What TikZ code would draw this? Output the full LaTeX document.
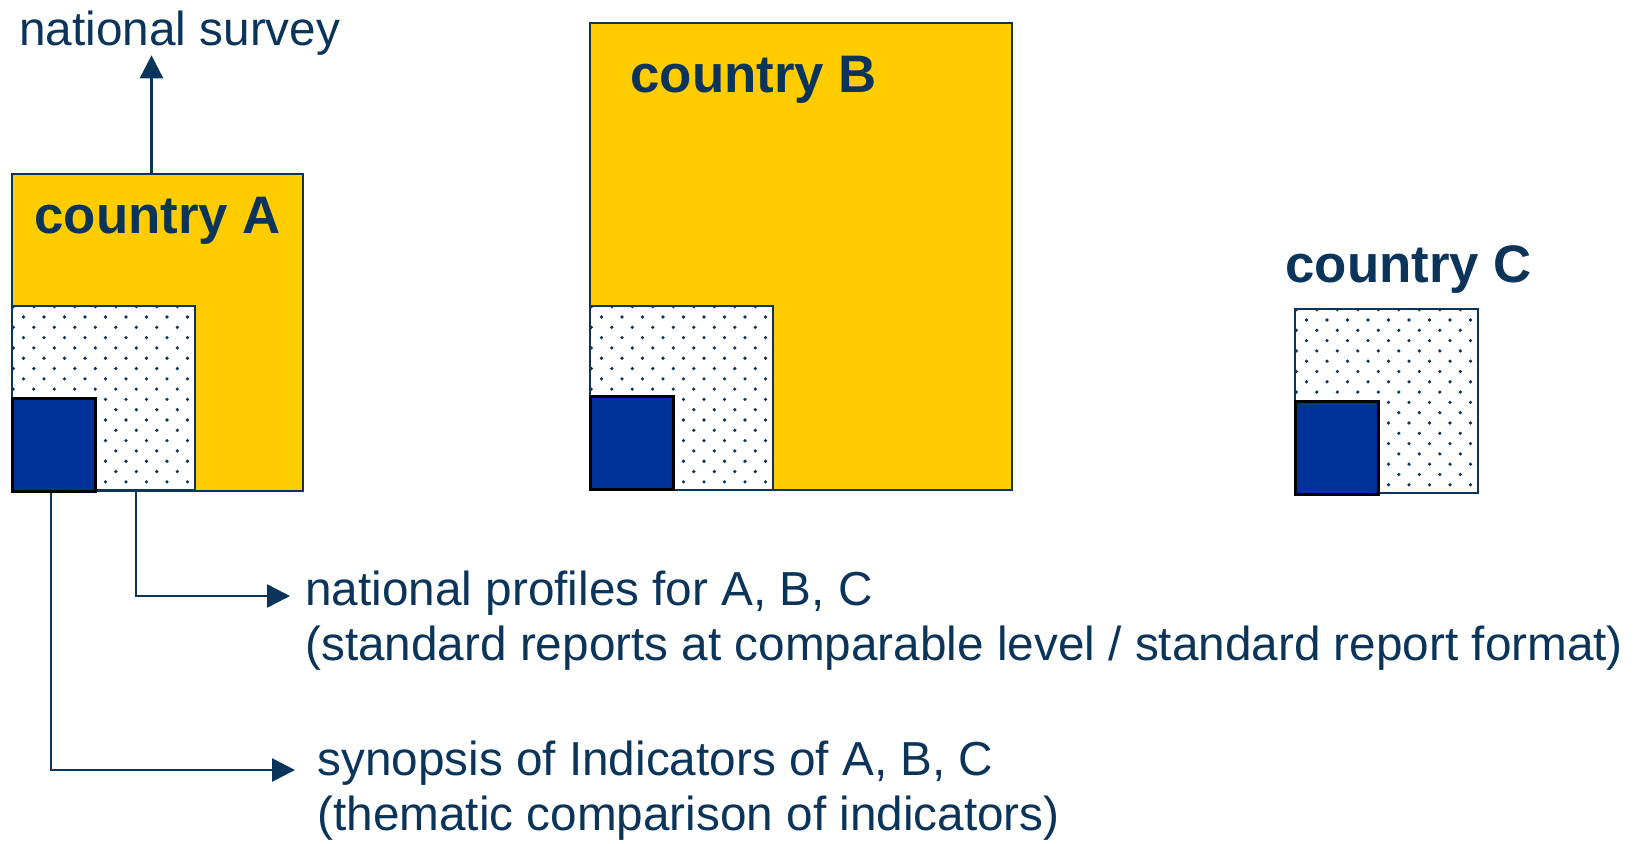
\documentclass[tikz,border=0pt]{standalone}
\usepackage{fontspec}
\setmainfont{Liberation Sans}
\usepackage{xcolor}
\usepackage{tikz}
\usetikzlibrary{calc}
\usetikzlibrary{arrows.meta}

\definecolor{navy}{RGB}{10,52,89}
\definecolor{countryyellow}{RGB}{255,204,0}
\definecolor{indicatorblue}{RGB}{0,51,153}

\tikzset{
  countrybox/.style={draw=navy, fill=countryyellow, line width=1pt, inner sep=0pt, anchor=north west},
  reportbox/.style={draw=navy, fill=white, line width=1pt, inner sep=0pt, anchor=north west,
    minimum width=91.5pt, minimum height=92pt,
    path picture={
      \foreach \r in {0,...,17}{
        \foreach \c in {0,...,8}{
          \fill[navy] ($(path picture bounding box.north west)+({1.3+10.2*mod(\r,2)+20.5*\c},{0.7+10.3*\r})$) circle (0.9pt);
        }
      }
    }},
  indicatorbox/.style={draw=black, fill=indicatorblue, line width=1.4pt, inner sep=0pt, anchor=north west,
    minimum width=41.5pt, minimum height=46.5pt},
  countrytext/.style={navy, inner sep=0pt, anchor=base west, font=\fontsize{26.4}{30}\selectfont\bfseries},
  plaintext/.style={navy, inner sep=0pt, anchor=base west, align=left, font=\fontsize{23.85}{27.5}\selectfont},
  link/.style={navy, line width=1.3pt, -{Triangle[length=11.5pt,width=11.5pt]}}
}

\begin{document}
\begin{tikzpicture}
    % pixel grid of the page, y downwards
    [line join=miter, x=0.5pt, y=-0.5pt]
    \useasboundingbox (0,0) rectangle (1638,843);

    \coordinate (A)  at (  11, 173);
    \coordinate (Ar) at (  11, 305);
    \coordinate (Ai) at (  11, 397);
    \coordinate (B)  at ( 589,  22);
    \coordinate (Br) at ( 589, 305);
    \coordinate (Bi) at ( 589, 395);
    \coordinate (Cr) at (1294, 308);
    \coordinate (Ci) at (1294, 400);

    % country A
    \node[countrybox, minimum width=145.5pt, minimum height=158.5pt] (boxA) at (A) {};
    \node[reportbox]    (repA) at (Ar) {};
    \node[indicatorbox] (indA) at (Ai) {};
    \node[countrytext]  (nameA) at (34, 233) {country A};

    % country B
    \node[countrybox, minimum width=211pt, minimum height=233.5pt] (boxB) at (B) {};
    \node[reportbox]    (repB) at (Br) {};
    \node[indicatorbox] (indB) at (Bi) {};
    \node[countrytext]  (nameB) at (630, 92) {country B};

    % country C
    \node[reportbox]    (repC) at (Cr) {};
    \node[indicatorbox] (indC) at (Ci) {};
    \node[countrytext]  (nameC) at (1285, 282) {country C};

    % outputs (base = last line)
    \node[plaintext] (survey)   at (19, 45) {national survey};
    \node[plaintext] (profiles) at (305, 660) {national profiles for A, B, C\\(standard reports at comparable level / standard report format)};
    \node[plaintext] (synopsis) at (317, 830) {synopsis of Indicators of A, B, C\\(thematic comparison of indicators)};

    \coordinate (profTip) at (290, 596);
    \coordinate (synTip)  at (295, 770);

    \draw[link] ([xshift=-3pt]boxA.north) -- ([xshift=-3pt]boxA.north |- survey.south);
    \draw[link] ($(repA.south west)!0.675!(repA.south east)$) |- (profTip);
    \draw[link] ([xshift=-1.5pt]indA.south) |- (synTip);
\end{tikzpicture}
\end{document}
